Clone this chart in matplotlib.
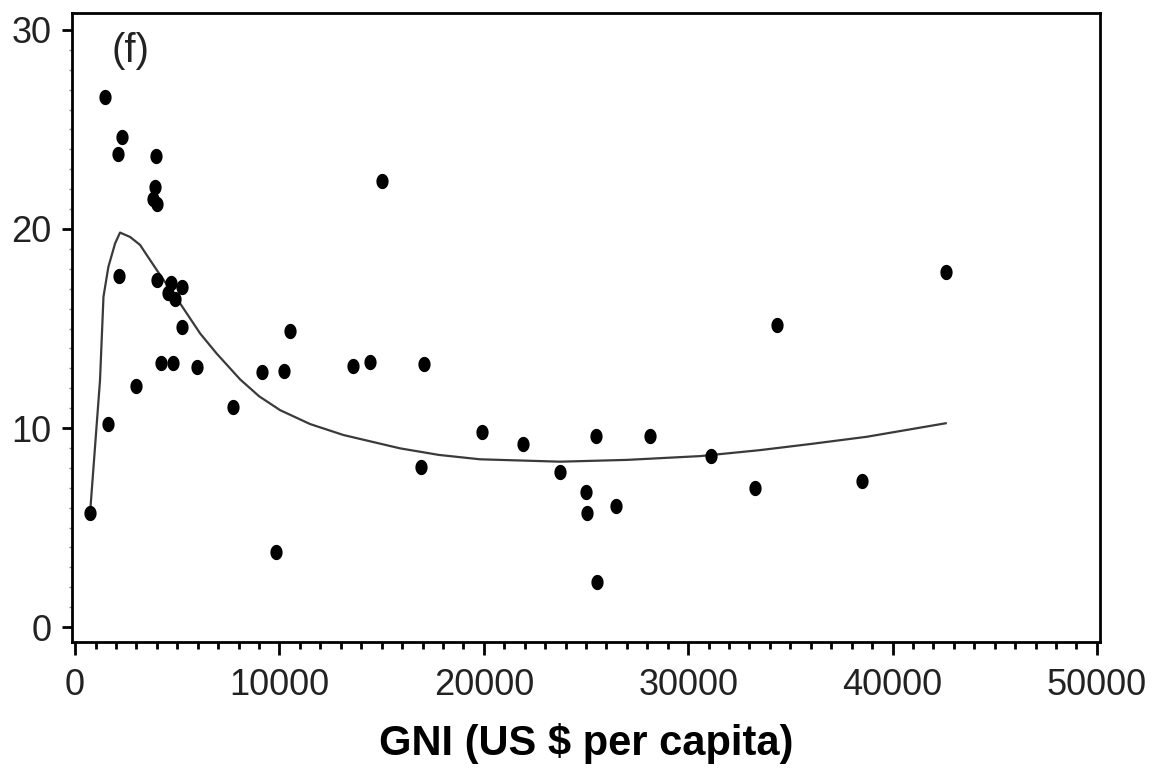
import numpy as np
import matplotlib.pyplot as plt
from matplotlib.path import Path
from matplotlib.ticker import MultipleLocator

# observed countries: GNI per capita (US $) vs value
gni = [1468, 2300, 2120, 3946, 3914, 3832, 3995, 2170, 4030, 4680,
       5250, 4570, 4890, 5220, 10520, 4210, 4780, 5970, 9130, 10240,
       13620, 14430, 17090, 15040, 734, 1614, 3000, 7710, 9830, 16950,
       19930, 21930, 23740, 24980, 25030, 25490, 26450, 28130, 31100, 33270,
       38520, 34340, 42600, 25540]
vals = [26.65, 24.64, 23.77, 23.65, 22.1, 21.5, 21.24, 17.64, 17.44, 17.27,
        17.07, 16.77, 16.48, 15.06, 14.9, 13.28, 13.25, 13.05, 12.81, 12.88,
        13.13, 13.3, 13.2, 22.43, 5.74, 10.18, 12.13, 11.04, 3.75, 8.02,
        9.81, 9.2, 7.77, 6.8, 5.71, 9.6, 6.1, 9.6, 8.59, 6.97,
        7.35, 15.18, 17.86, 2.25]

# fitted curve
fit_x = [734, 1220, 1390, 1630, 1960, 2200, 2690, 3180, 3670, 4160,
         5140, 6120, 6930, 8070, 9000, 10030, 11500, 13130, 15900, 17800,
         19810, 23730, 27000, 30580, 33510, 36000, 38730, 42600]
fit_y = [5.74, 12.4, 16.6, 18.1, 19.28, 19.82, 19.6, 19.2, 18.44, 17.69,
         16.26, 14.75, 13.74, 12.45, 11.6, 10.9, 10.2, 9.65, 8.98, 8.65,
         8.43, 8.31, 8.4, 8.59, 8.89, 9.2, 9.56, 10.24]

xticks = [0, 10000, 20000, 30000, 40000, 50000]
yticks = [0, 10, 20, 30]

plt.rcParams['font.family'] = ['Liberation Sans', 'DejaVu Sans']

# dots in the source are slightly taller than wide
t = np.linspace(0, 2 * np.pi, 40)
dot = Path(np.column_stack([0.8 * np.cos(t), np.sin(t)]), closed=True)

fig = plt.figure(figsize=(11.54, 7.70), dpi=100)
ax = fig.add_axes([0.0624, 0.1662, 0.8908, 0.8169])

ax.plot(fit_x, fit_y, color='#3a3a3a', linewidth=1.6, zorder=2)
ax.plot(gni, vals, linestyle='none', marker=dot, markersize=11,
        color='black', markeredgewidth=0, zorder=3)

ax.set_xlim(-150, 50150)
ax.set_ylim(-0.75, 30.85)

ax.set_xticks(xticks)
ax.set_xticklabels([str(v) for v in xticks])
ax.set_yticks(yticks)
ax.set_yticklabels([str(v) for v in yticks])
ax.xaxis.set_minor_locator(MultipleLocator(1000))
ax.yaxis.set_minor_locator(MultipleLocator(1))

ax.tick_params(axis='both', which='major', labelsize=26, width=2, color='black')
ax.tick_params(axis='x', which='major', length=9, pad=10)
ax.tick_params(axis='x', which='minor', length=5, width=2)
ax.tick_params(axis='y', which='major', length=7, pad=8)
ax.tick_params(axis='y', which='minor', length=2, width=1, color='#888888')
for lbl in ax.get_xticklabels() + ax.get_yticklabels():
    lbl.set_color('#222222')

for sp in ax.spines.values():
    sp.set_linewidth(2)

ax.set_xlabel("GNI (US $ per capita)", fontsize=30, fontweight='bold', labelpad=14)
ax.text(1800, 29.9, "(f)", fontsize=29, va='top', ha='left', color='#222222')

fig.savefig("out.png", dpi=100)
